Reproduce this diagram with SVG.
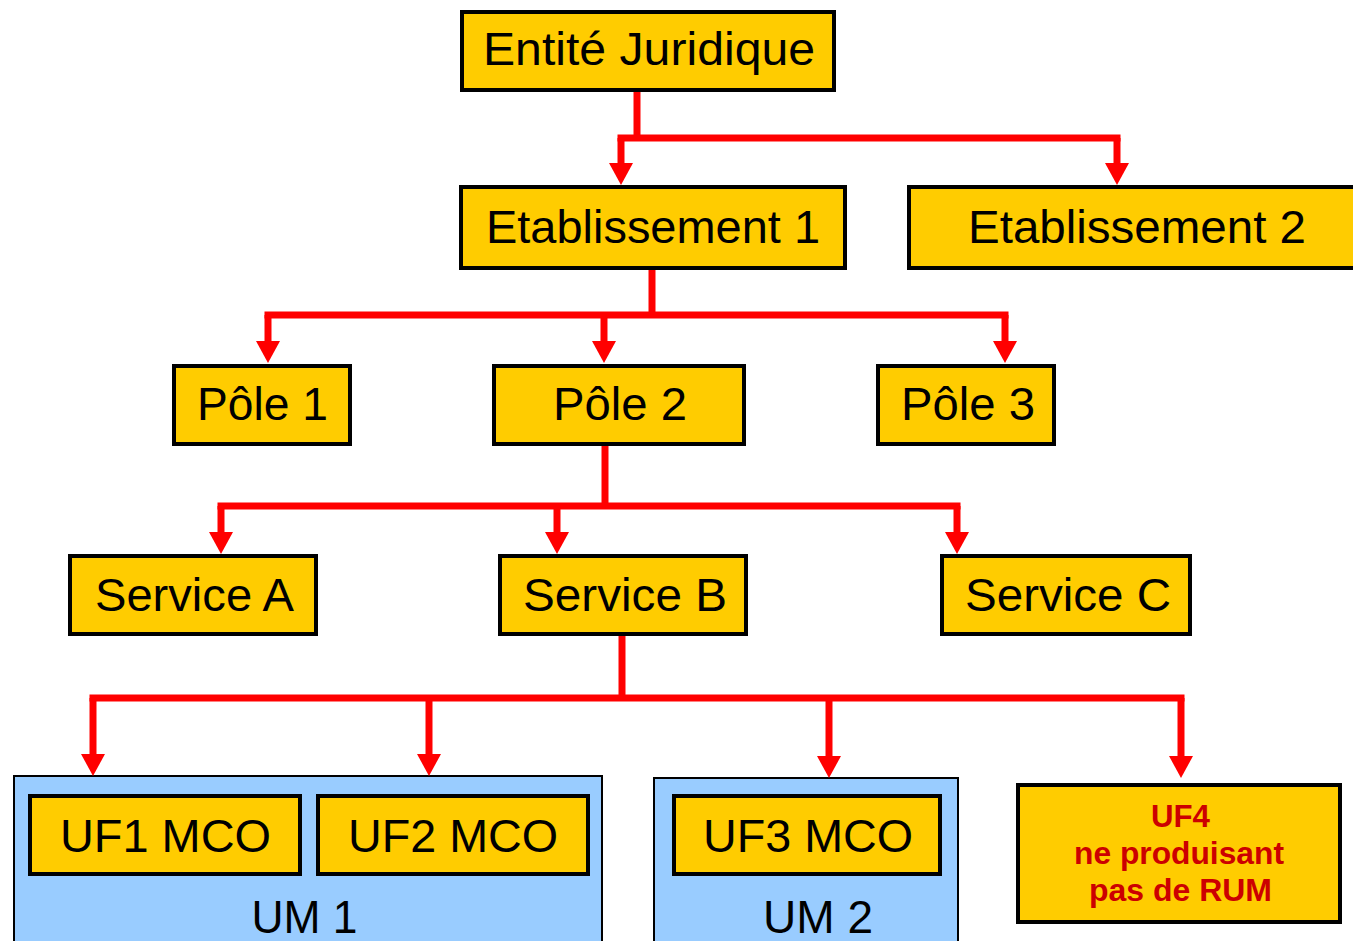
<svg xmlns="http://www.w3.org/2000/svg" width="1353" height="941" viewBox="0 0 1353 941">
<style>
.box{fill:#FFCC00;stroke:#000;stroke-width:4}
.um{fill:#99CCFF;stroke:#000;stroke-width:2}
.t{font-family:"Liberation Sans",Arial,sans-serif;font-size:46px;fill:#000;text-anchor:middle}
.r{font-family:"Liberation Sans",Arial,sans-serif;font-size:31px;font-weight:bold;fill:#CC0000;text-anchor:middle}
.c{fill:none;stroke:#FF0000;stroke-width:7}
.h{stroke-linecap:square}
.a{marker-end:url(#arr)}
</style>
<defs>
<marker id="arr" markerUnits="userSpaceOnUse" markerWidth="24" markerHeight="24" refX="1" refY="12" orient="auto" overflow="visible">
<path d="M0,0 L22,12 L0,24 Z" fill="#FF0000"/>
</marker>
</defs>
<rect width="1353" height="941" fill="#fff"/>
<g id="um1"><rect class="um" x="14" y="776" width="588" height="200"/><text class="t" x="304.5" y="933" textLength="106" lengthAdjust="spacingAndGlyphs">UM 1</text></g>
<g id="um2"><rect class="um" x="654" y="778" width="304" height="200"/><text class="t" x="818" y="933" textLength="110" lengthAdjust="spacingAndGlyphs">UM 2</text></g>
<g id="connectors">
<path class="c" d="M637,92 V138"/>
<path class="c h" d="M621,138 H1117"/>
<path class="c a" d="M621,138 V164"/>
<path class="c a" d="M1117,138 V164"/>
<path class="c" d="M652,270 V315"/>
<path class="c h" d="M268,315 H1005"/>
<path class="c a" d="M268,315 V342"/>
<path class="c a" d="M604,315 V342"/>
<path class="c a" d="M1005,315 V342"/>
<path class="c" d="M605,446 V506"/>
<path class="c h" d="M221,506 H957"/>
<path class="c a" d="M221,506 V533"/>
<path class="c a" d="M557,506 V533"/>
<path class="c a" d="M957,506 V533"/>
<path class="c" d="M622,636 V698"/>
<path class="c h" d="M93,698 H1181"/>
<path class="c a" d="M93,698 V755"/>
<path class="c a" d="M429,698 V755"/>
<path class="c a" d="M829,698 V757"/>
<path class="c a" d="M1181,698 V757"/>
</g>
<g id="entite"><rect class="box" x="462" y="12" width="372" height="78"/><text class="t" x="649" y="65" textLength="332" lengthAdjust="spacingAndGlyphs">Entité Juridique</text></g>
<g id="etab1"><rect class="box" x="461" y="187" width="384" height="81"/><text class="t" x="653" y="243" textLength="334" lengthAdjust="spacingAndGlyphs">Etablissement 1</text></g>
<g id="etab2"><rect class="box" x="909" y="187" width="460" height="81"/><text class="t" x="1137" y="243" textLength="338" lengthAdjust="spacingAndGlyphs">Etablissement 2</text></g>
<g id="pole1"><rect class="box" x="174" y="366" width="176" height="78"/><text class="t" x="262.5" y="420" textLength="131" lengthAdjust="spacingAndGlyphs">Pôle 1</text></g>
<g id="pole2"><rect class="box" x="494" y="366" width="250" height="78"/><text class="t" x="620" y="420" textLength="134" lengthAdjust="spacingAndGlyphs">Pôle 2</text></g>
<g id="pole3"><rect class="box" x="878" y="366" width="176" height="78"/><text class="t" x="968" y="420" textLength="134" lengthAdjust="spacingAndGlyphs">Pôle 3</text></g>
<g id="serviceA"><rect class="box" x="70" y="556" width="246" height="78"/><text class="t" x="194.5" y="611" textLength="199" lengthAdjust="spacingAndGlyphs">Service A</text></g>
<g id="serviceB"><rect class="box" x="500" y="556" width="246" height="78"/><text class="t" x="625" y="611" textLength="204" lengthAdjust="spacingAndGlyphs">Service B</text></g>
<g id="serviceC"><rect class="box" x="942" y="556" width="248" height="78"/><text class="t" x="1068" y="611" textLength="206" lengthAdjust="spacingAndGlyphs">Service C</text></g>
<g id="uf1"><rect class="box" x="30" y="796" width="270" height="78"/><text class="t" x="165.5" y="852" textLength="211" lengthAdjust="spacingAndGlyphs">UF1 MCO</text></g>
<g id="uf2"><rect class="box" x="318" y="796" width="270" height="78"/><text class="t" x="453" y="852" textLength="210" lengthAdjust="spacingAndGlyphs">UF2 MCO</text></g>
<g id="uf3"><rect class="box" x="674" y="796" width="266" height="78"/><text class="t" x="808" y="852" textLength="210" lengthAdjust="spacingAndGlyphs">UF3 MCO</text></g>
<g id="uf4"><rect class="box" x="1018" y="785" width="322" height="137"/>
<text class="r" x="1180.5" y="827" textLength="59" lengthAdjust="spacingAndGlyphs">UF4</text>
<text class="r" x="1179" y="864" textLength="210" lengthAdjust="spacingAndGlyphs">ne produisant</text>
<text class="r" x="1180.5" y="901" textLength="183" lengthAdjust="spacingAndGlyphs">pas de RUM</text></g>
</svg>
